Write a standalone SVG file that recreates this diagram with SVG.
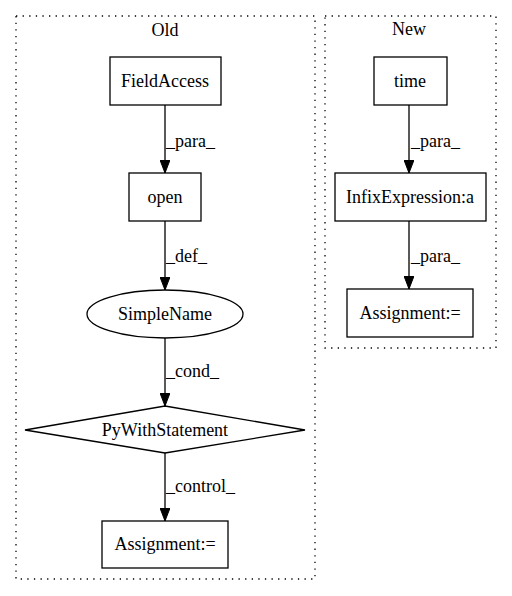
<svg xmlns="http://www.w3.org/2000/svg" width="512" height="596" viewBox="0 0 512 596">
<defs>
<marker id="arr" viewBox="0 0 13 10" refX="13" refY="5" markerWidth="13" markerHeight="10" markerUnits="userSpaceOnUse" orient="auto">
<polygon points="0,0 13,5 0,10" fill="#000" stroke="#000"/>
</marker>
</defs>
<style>
text{font-family:"Liberation Serif","Times New Roman",serif;font-size:18px;fill:#000}
.c{text-anchor:middle}
.cl{fill:none;stroke:#000;stroke-width:1.3;stroke-dasharray:1.3,5.3}
.n{fill:#fff;stroke:#000;stroke-width:1.3}
.e{fill:none;stroke:#000;stroke-width:1.3;marker-end:url(#arr)}
</style>
<rect width="512" height="596" fill="#fff"/>
<g id="cluster_old">
<rect class="cl" x="16" y="16" width="299" height="563"/>
<text class="c" x="165" y="36">Old</text>
</g>
<g id="cluster_new">
<rect class="cl" x="325" y="16" width="171" height="332"/>
<text class="c" x="409" y="35">New</text>
</g>
<g id="edges">
<line class="e" x1="165" y1="105" x2="165" y2="173"/>
<text x="166" y="147">_para_</text>
<line class="e" x1="165" y1="221" x2="165" y2="290"/>
<text x="166" y="262">_def_</text>
<line class="e" x1="165" y1="338" x2="165" y2="406"/>
<text x="166" y="377">_cond_</text>
<line class="e" x1="165" y1="453" x2="165" y2="521"/>
<text x="166" y="492">_control_</text>
<line class="e" x1="409" y1="105" x2="409" y2="173"/>
<text x="411" y="147">_para_</text>
<line class="e" x1="409" y1="221" x2="409" y2="289"/>
<text x="411" y="262">_para_</text>
</g>
<g id="FieldAccess">
<rect class="n" x="110" y="57" width="111" height="48"/>
<text class="c" x="165" y="87">FieldAccess</text>
</g>
<g id="open">
<rect class="n" x="129" y="173" width="72" height="48"/>
<text class="c" x="165" y="203">open</text>
</g>
<g id="SimpleName">
<ellipse class="n" cx="165" cy="314" rx="78" ry="24"/>
<text class="c" x="165" y="320">SimpleName</text>
</g>
<g id="PyWithStatement">
<polygon class="n" points="165,406 305,430 165,453 25,430"/>
<text class="c" x="165" y="436">PyWithStatement</text>
</g>
<g id="Assignment_old">
<rect class="n" x="102" y="521" width="126" height="47"/>
<text class="c" x="165" y="550">Assignment:=</text>
</g>
<g id="time">
<rect class="n" x="374" y="57" width="73" height="48"/>
<text class="c" x="410" y="87">time</text>
</g>
<g id="InfixExpression">
<rect class="n" x="335" y="173" width="151" height="48"/>
<text class="c" x="410" y="203">InfixExpression:a</text>
</g>
<g id="Assignment_new">
<rect class="n" x="347" y="289" width="126" height="48"/>
<text class="c" x="410" y="319">Assignment:=</text>
</g>
</svg>
